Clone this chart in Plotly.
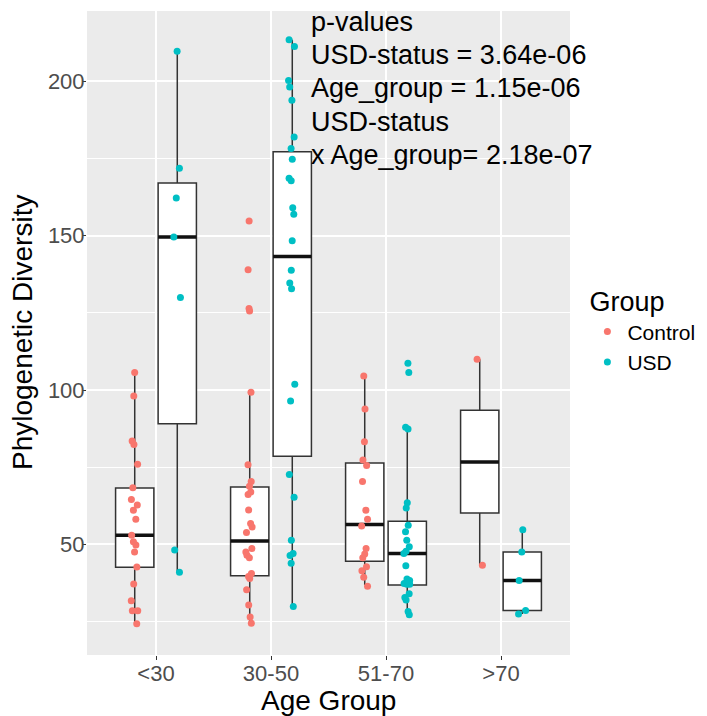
import plotly.graph_objects as go

# ---------------- data ----------------
categories = ["<30", "30-50", "51-70", ">70"]
groups = ["Control", "USD"]
colors = {"Control": "#F8766D", "USD": "#00BFC4"}

# individual sample values (Phylogenetic Diversity)
control_lt30 = [105.7, 98.1, 83.5, 82.4, 76.0, 68.4, 64.6, 62.8, 61.1, 58.2, 53.0,
                50.9, 49.8, 47.6, 42.7, 37.2, 31.8, 28.5, 28.5, 24.3]
control_30_50 = [154.8, 139.0, 126.4, 125.6, 99.3, 75.8, 70.4, 68.9, 67.0, 66.2, 61.2,
                 56.8, 55.7, 53.9, 48.7, 47.6, 46.5, 45.7, 40.6, 39.6, 39.0, 35.3,
                 30.4, 26.5, 24.5]
control_51_70 = [104.6, 93.9, 83.3, 77.4, 75.6, 70.4, 61.1, 58.2, 56.0, 48.7, 46.9,
                 45.7, 42.8, 41.5, 39.4, 36.5]
control_gt70 = [110.0, 43.3]

usd_lt30 = [209.8, 171.9, 162.2, 149.6, 130.0, 48.2, 41.0]
usd_30_50 = [213.5, 211.3, 200.3, 198.2, 193.9, 182.0, 178.3, 174.8, 168.6, 167.8,
             159.1, 157.0, 148.4, 138.8, 134.7, 132.8, 101.9, 96.5, 72.7, 65.3, 51.4,
             47.1, 46.4, 43.9, 29.9]
usd_51_70 = [108.7, 105.7, 88.0, 87.4, 63.5, 61.8, 56.2, 54.1, 51.4, 49.3, 47.8, 47.1,
             43.1, 38.8, 38.3, 37.4, 37.1, 37.1, 34.0, 32.8, 32.0, 28.3, 27.2]
usd_gt70 = [54.8, 47.6, 38.3, 28.6, 27.5]

# box statistics per age group (as drawn)
control_lower = [24.3, 24.5, 36.9, 43.3]
control_q1 = [42.6, 39.9, 44.6, 60.2]
control_median = [53.0, 51.1, 56.5, 76.7]
control_q3 = [68.3, 68.6, 76.4, 93.5]
control_upper = [105.7, 99.3, 104.6, 110.0]

usd_lower = [41.0, 29.9, 27.2, 27.5]
usd_q1 = [89.1, 78.6, 36.9, 28.6]
usd_median = [149.6, 143.3, 47.1, 38.3]
usd_q3 = [167.1, 177.2, 57.5, 47.6]
usd_upper = [209.8, 213.5, 86.5, 54.8]

y_ticks = [50, 100, 150, 200]
y_minor = [25, 75, 125, 175]

x_title = "Age Group"
y_title = "Phylogenetic Diversity"
pvalue_lines = ["p-values", "USD-status = 3.64e-06", "Age_group = 1.15e-06",
                "USD-status", "x Age_group= 2.18e-07"]

points = {
    "Control": [control_lt30, control_30_50, control_51_70, control_gt70],
    "USD": [usd_lt30, usd_30_50, usd_51_70, usd_gt70],
}
stats = {
    "Control": (control_lower, control_q1, control_median, control_q3, control_upper),
    "USD": (usd_lower, usd_q1, usd_median, usd_q3, usd_upper),
}

FONT = "Liberation Sans, Arial, sans-serif"
fig = go.Figure()

# boxes
for g in groups:
    lo, q1, med, q3, up = stats[g]
    fig.add_trace(go.Box(
        x=categories, q1=q1, median=med, q3=q3, lowerfence=lo, upperfence=up,
        offsetgroup=g, alignmentgroup="a", boxpoints=False,
        fillcolor="white", line=dict(color="#333333", width=1.5), whiskerwidth=0,
        showlegend=False, hoverinfo="skip"))

# thick median lines
for g in groups:
    med = stats[g][2]
    fig.add_trace(go.Box(
        x=categories, q1=med, median=med, q3=med, lowerfence=med, upperfence=med,
        offsetgroup=g, alignmentgroup="a", boxpoints=False,
        fillcolor="rgba(0,0,0,0)", line=dict(color="#111111", width=3.5), whiskerwidth=0,
        showlegend=False, hoverinfo="skip"))

# jittered points
for g in groups:
    xs, ys = [], []
    for cat, vals in zip(categories, points[g]):
        xs += [cat] * len(vals)
        ys += vals
    fig.add_trace(go.Box(
        x=xs, y=ys, offsetgroup=g, alignmentgroup="a", boxpoints="all",
        jitter=0.22, pointpos=0, fillcolor="rgba(0,0,0,0)",
        line=dict(width=0, color="rgba(0,0,0,0)"), whiskerwidth=0,
        marker=dict(color=colors[g], size=7, line=dict(width=0)),
        showlegend=False, hoverinfo="y"))

# legend entries
for g in groups:
    fig.add_trace(go.Scatter(x=[None], y=[None], mode="markers", name=g,
                             marker=dict(color=colors[g], size=7)))

for i, line in enumerate(pvalue_lines):
    fig.add_annotation(text=line, xref="paper", yref="paper",
                       x=(309 - 87) / 483, y=1 + (11 - (21.7 + 33.3 * i)) / 644,
                       xanchor="left", yanchor="middle", showarrow=False,
                       font=dict(size=27, color="black", family=FONT))

# axis titles
fig.add_annotation(text=x_title, xref="paper", yref="paper", x=0.5,
                   y=(655 - 700) / 644, xanchor="center", yanchor="middle",
                   showarrow=False, font=dict(size=28, color="black", family=FONT))
fig.add_annotation(text=y_title, xref="paper", yref="paper", x=(22 - 87) / 483,
                   y=0.5, xanchor="center", yanchor="middle", textangle=-90,
                   showarrow=False, font=dict(size=28, color="black", family=FONT))

# the page shows the figure 8px in from the top-left corner
fig.update_layout(
    width=699, height=708,
    margin=dict(l=79, r=137, t=3, b=61, autoexpand=False),
    paper_bgcolor="white", plot_bgcolor="#EBEBEB",
    font=dict(family=FONT, color="black"),
    boxmode="group", boxgap=0.26, boxgroupgap=0.1,
    legend=dict(title=dict(text="Group", font=dict(size=27)),
                font=dict(size=21), x=1.036, xanchor="left", y=0.588, yanchor="top",
                bgcolor="rgba(0,0,0,0)", tracegroupgap=0),
    xaxis=dict(type="category", categoryorder="array", categoryarray=categories,
               range=[-0.6, 3.6], showgrid=True, gridcolor="white", gridwidth=2,
               ticks="outside", ticklen=4, tickcolor="#333333", ticklabelstandoff=-5,
               tickfont=dict(size=22, color="#4D4D4D"), zeroline=False, automargin=False),
    yaxis=dict(range=[14.2, 222.8], tickvals=y_ticks, showgrid=True, gridcolor="white",
               gridwidth=2, ticks="outside", ticklen=4, tickcolor="#333333",
               ticklabelstandoff=-7, automargin=False,
               tickfont=dict(size=22, color="#4D4D4D"), zeroline=False,
               minor=dict(tickvals=y_minor, showgrid=True, gridcolor="white", gridwidth=1)),
)

fig.write_html("out.html")
